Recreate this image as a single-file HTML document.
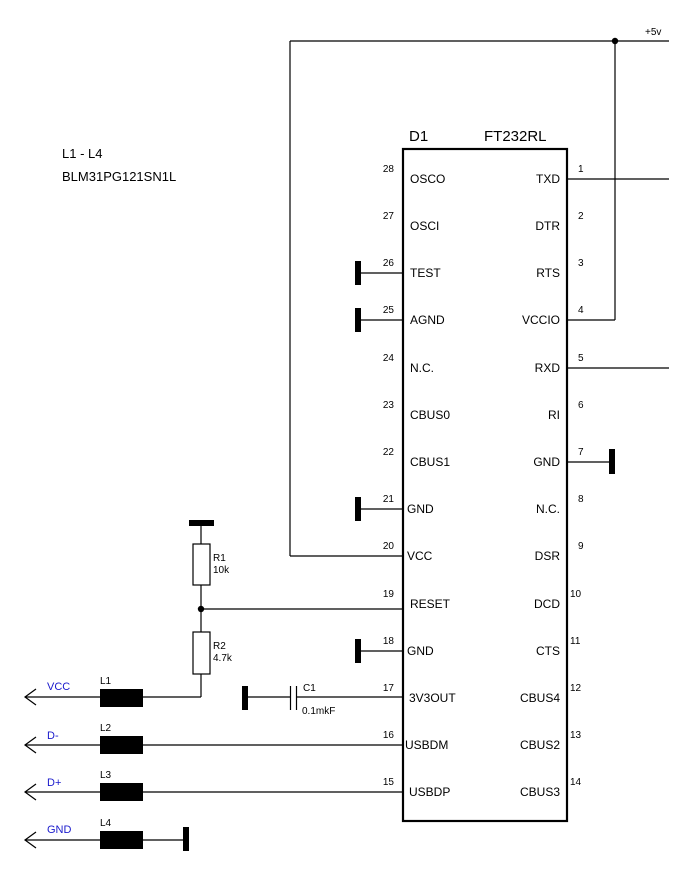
<!DOCTYPE html>
<html><head><meta charset="utf-8"><style>
html,body{margin:0;padding:0;background:#fff;width:691px;height:874px;overflow:hidden}
svg{display:block}
text{font-family:"Liberation Sans",Arial,sans-serif;fill:#000}
.pn{font-size:10px}
.nm{font-size:12px}
.bl{fill:#1a1acc;font-size:11px}
</style></head><body>
<svg width="691" height="874" viewBox="0 0 691 874" xmlns="http://www.w3.org/2000/svg">
<g stroke="#000" stroke-width="1.2" fill="none">
<!-- +5v line -->
<line x1="290" y1="41" x2="669" y2="41"/>
<line x1="290" y1="41" x2="290" y2="556"/>
<line x1="290" y1="556" x2="402" y2="556"/>
<line x1="615" y1="41" x2="615" y2="320"/>
<line x1="568" y1="320" x2="615" y2="320"/>
<line x1="568" y1="179" x2="669" y2="179"/>
<line x1="568" y1="368" x2="669" y2="368"/>
<line x1="568" y1="462" x2="612" y2="462"/>
<!-- left GND pins -->
<line x1="358" y1="273" x2="402" y2="273"/>
<line x1="358" y1="320" x2="402" y2="320"/>
<line x1="358" y1="509" x2="402" y2="509"/>
<line x1="358" y1="651" x2="402" y2="651"/>
<!-- reset -->
<line x1="201" y1="609" x2="402" y2="609"/>
<line x1="201" y1="523" x2="201" y2="544"/>
<line x1="201" y1="585" x2="201" y2="632"/>
<line x1="201" y1="674" x2="201" y2="697"/>
<line x1="143" y1="697" x2="201" y2="697"/>
<!-- cap -->
<line x1="246" y1="697" x2="290" y2="697"/>
<line x1="296" y1="697" x2="402" y2="697"/>
<line x1="290.5" y1="686" x2="290.5" y2="710"/>
<line x1="296.5" y1="686" x2="296.5" y2="710"/>
<!-- USB lines -->
<line x1="25" y1="697" x2="100" y2="697"/>
<line x1="25" y1="745" x2="100" y2="745"/>
<line x1="25" y1="792" x2="100" y2="792"/>
<line x1="25" y1="840" x2="100" y2="840"/>
<line x1="143" y1="745" x2="402" y2="745"/>
<line x1="143" y1="792" x2="402" y2="792"/>
<line x1="143" y1="840" x2="185" y2="840"/>
<polyline points="36,689 25,697 36,705"/>
<polyline points="36,737 25,745 36,753"/>
<polyline points="36,784 25,792 36,800"/>
<polyline points="36,832 25,840 36,848"/>
<!-- resistors -->
<rect x="193" y="544" width="17" height="41"/>
<rect x="193" y="632" width="17" height="42"/>
</g>
<!-- chip box -->
<rect x="403" y="149" width="164" height="672" fill="none" stroke="#000" stroke-width="2.2"/>
<g fill="#000">
<circle cx="615" cy="41" r="3.2"/>
<circle cx="201" cy="609" r="3.2"/>
<rect x="355" y="261" width="6" height="24"/>
<rect x="355" y="308" width="6" height="24"/>
<rect x="355" y="497" width="6" height="24"/>
<rect x="355" y="639" width="6" height="24"/>
<rect x="609" y="449" width="6" height="25"/>
<rect x="189" y="520" width="25" height="6"/>
<rect x="242" y="686" width="6" height="24"/>
<rect x="183" y="827" width="6" height="24"/>
<rect x="100" y="689" width="43" height="18"/>
<rect x="100" y="736" width="43" height="18"/>
<rect x="100" y="783" width="43" height="18"/>
<rect x="100" y="831" width="43" height="18"/>
</g>
<text x="645" y="35" class="pn">+5v</text>
<text x="62" y="158" style="font-size:13px">L1 - L4</text>
<text x="62" y="181" style="font-size:13px">BLM31PG121SN1L</text>
<text x="409" y="141" style="font-size:15px">D1</text>
<text x="484" y="141" style="font-size:15px">FT232RL</text>
<g class="pn" text-anchor="end">
<text x="394" y="172">28</text><text x="394" y="219">27</text><text x="394" y="266">26</text><text x="394" y="313">25</text><text x="394" y="361">24</text><text x="394" y="408">23</text><text x="394" y="455">22</text><text x="394" y="502">21</text><text x="394" y="549">20</text><text x="394" y="597">19</text><text x="394" y="644">18</text><text x="394" y="691">17</text><text x="394" y="738">16</text><text x="394" y="785">15</text>
</g>
<g class="pn">
<text x="578" y="172">1</text><text x="578" y="219">2</text><text x="578" y="266">3</text><text x="578" y="313">4</text><text x="578" y="361">5</text><text x="578" y="408">6</text><text x="578" y="455">7</text><text x="578" y="502">8</text><text x="578" y="549">9</text><text x="570" y="597">10</text><text x="570" y="644">11</text><text x="570" y="691">12</text><text x="570" y="738">13</text><text x="570" y="785">14</text>
</g>
<g class="nm">
<text x="410" y="183">OSCO</text><text x="410" y="230">OSCI</text><text x="410" y="277">TEST</text><text x="410" y="324">AGND</text><text x="410" y="372">N.C.</text><text x="410" y="419">CBUS0</text><text x="410" y="466">CBUS1</text><text x="407" y="513">GND</text><text x="407" y="560">VCC</text><text x="410" y="608">RESET</text><text x="407" y="655">GND</text><text x="409" y="702">3V3OUT</text><text x="405" y="749">USBDM</text><text x="409" y="796">USBDP</text>
</g>
<g class="nm" text-anchor="end">
<text x="560" y="183">TXD</text><text x="560" y="230">DTR</text><text x="560" y="277">RTS</text><text x="560" y="324">VCCIO</text><text x="560" y="372">RXD</text><text x="560" y="419">RI</text><text x="560" y="466">GND</text><text x="560" y="513">N.C.</text><text x="560" y="560">DSR</text><text x="560" y="608">DCD</text><text x="560" y="655">CTS</text><text x="560" y="702">CBUS4</text><text x="560" y="749">CBUS2</text><text x="560" y="796">CBUS3</text>
</g>
<g class="pn">
<text x="213" y="561">R1</text><text x="213" y="573">10k</text>
<text x="213" y="649">R2</text><text x="213" y="661">4.7k</text>
<text x="303" y="691">C1</text><text x="302" y="714">0.1mkF</text>
<text x="100" y="684">L1</text><text x="100" y="731">L2</text><text x="100" y="778">L3</text><text x="100" y="826">L4</text>
</g>
<text x="47" y="690" class="bl">VCC</text>
<text x="47" y="739" class="bl">D-</text>
<text x="47" y="786" class="bl">D+</text>
<text x="47" y="833" class="bl">GND</text>
</svg>
</body></html>
